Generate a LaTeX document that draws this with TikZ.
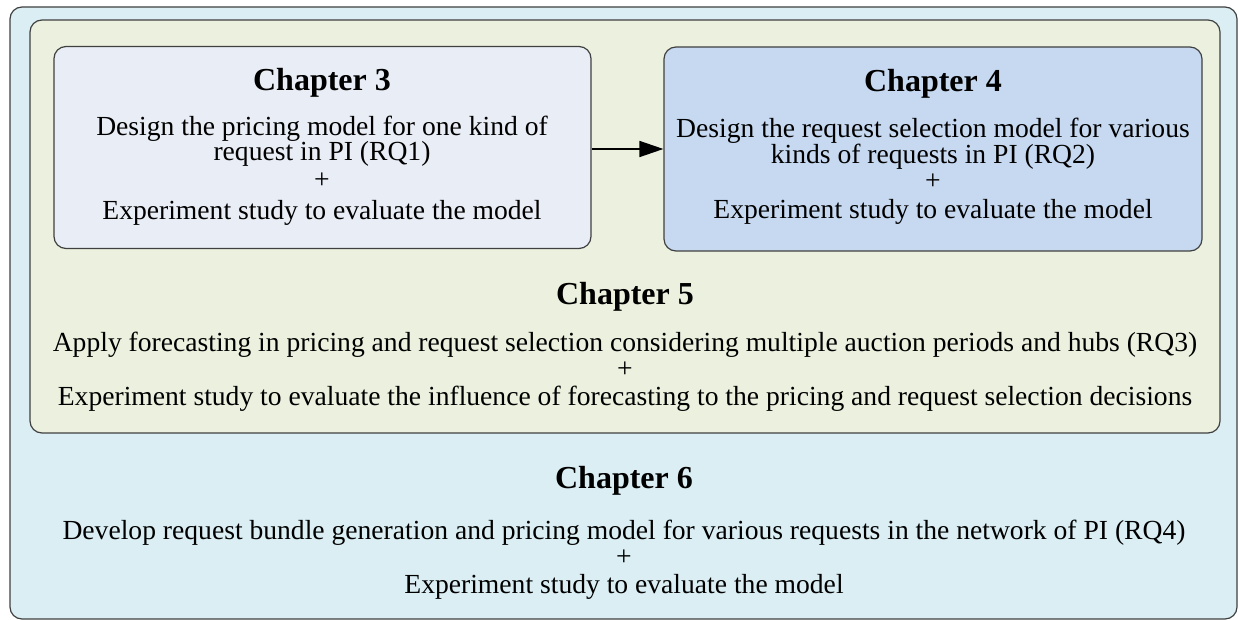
\documentclass[tikz,border=0pt]{standalone}
\usepackage{fontspec}
\setmainfont{Liberation Serif}
\usetikzlibrary{arrows.meta}
\definecolor{outerfill}{HTML}{DAEEF3}
\definecolor{greenfill}{HTML}{EBF1DE}
\definecolor{chthree}{HTML}{E9EDF5}
\definecolor{chfour}{HTML}{C6D9F1}
\definecolor{edge}{HTML}{404040}
\tikzset{
  panel/.style={draw=edge, line width=1.2pt, rounded corners=12pt},
  txt/.style={anchor=base, inner sep=0pt, font=\fontsize{27.6}{30}\selectfont},
  ttl/.style={anchor=base, inner sep=0pt, font=\fontsize{32}{34}\selectfont\bfseries},
  link/.style={line width=1.6pt, -{Triangle[length=24pt,width=16pt]}}
}
\begin{document}
\begin{tikzpicture}[x=1pt,y=-1pt]
\useasboundingbox (0,0) rectangle (1239,620);
\begin{scope}
\clip (0,0) rectangle (1239,620);
\draw[panel, fill=outerfill] (10,7) rectangle (1237,619);
\end{scope}
\draw[panel, fill=greenfill] (30,20) rectangle (1220,433);
\node[panel, fill=chthree, minimum width=537pt, minimum height=202pt, inner sep=0pt] (c3) at (322.5,147.5) {};
\node[panel, fill=chfour, minimum width=538pt, minimum height=204pt, inner sep=0pt] (c4) at (933,149) {};
\draw[link] (c3.east |- 0,149) -- (c4.west |- 0,149);
% chapter 3
\node[ttl] (t3) at (322,91) {Chapter 3};
\node[txt] (a3) at (322,136) {Design the pricing model for one kind of};
\node[txt] (b3) at (322,161) {request in PI (RQ1)};
\node[txt] (p3) at (322,189) {+};
\node[txt] (e3) at (322,220) {Experiment study to evaluate the model};
% chapter 4
\node[ttl] (t4) at (933,92) {Chapter 4};
\node[txt] (a4) at (933,138) {Design the request selection model for various};
\node[txt] (b4) at (933,164) {kinds of requests in PI (RQ2)};
\node[txt] (p4) at (933,190) {+};
\node[txt] (e4) at (933,219) {Experiment study to evaluate the model};
% chapter 5
\node[ttl] (t5) at (625,305) {Chapter 5};
\node[txt] (a5) at (625,351) {Apply forecasting in pricing and request selection considering multiple auction periods and hubs (RQ3)};
\node[txt] (p5) at (625,377) {+};
\node[txt] (e5) at (625,405) {Experiment study to evaluate the influence of forecasting to the pricing and request selection decisions};
% chapter 6
\node[ttl] (t6) at (624,488) {Chapter 6};
\node[txt] (a6) at (624,539) {Develop request bundle generation and pricing model for various requests in the network of PI (RQ4)};
\node[txt] (p6) at (624,565) {+};
\node[txt] (e6) at (624,593) {Experiment study to evaluate the model};
\end{tikzpicture}
\end{document}
